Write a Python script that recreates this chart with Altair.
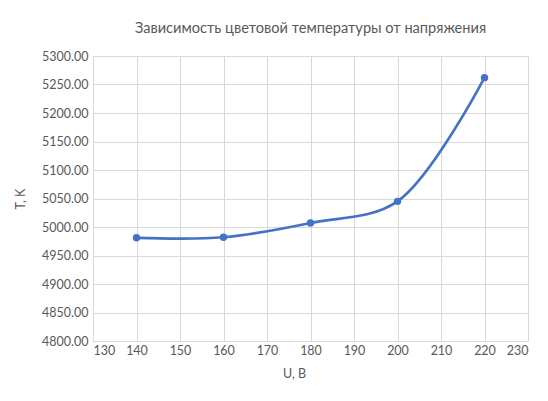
import altair as alt
import pandas as pd

voltage = [140, 160, 180, 200, 220]
temperature = [4981, 4982, 5007, 5045, 5262]

df = pd.DataFrame({"U": voltage, "T": temperature})

FONT = "Lato"
GRAY = "#595959"
BLUE = "#4472C4"

common = dict(labelFont=FONT, labelFontSize=12.5, labelColor=GRAY,
              titleFont=FONT, titleFontSize=12.5, titleColor=GRAY,
              titleFontWeight="normal", gridColor="#d9d9d9",
              domainColor="#d9d9d9", ticks=False)

x = alt.X("U:Q",
          scale=alt.Scale(domain=[130, 230], nice=False, zero=False),
          axis=alt.Axis(values=list(range(130, 231, 10)), title="U, B",
                        titleX=201, titleAlign="center", titlePadding=11,
                        labelPadding=3, **common))
y = alt.Y("T:Q",
          scale=alt.Scale(domain=[4800, 5300], nice=False, zero=False),
          axis=alt.Axis(values=list(range(4800, 5301, 50)), format=".2f",
                        title="T, K", titlePadding=14, labelPadding=5,
                        **common))

line = alt.Chart(df).mark_line(interpolate="catmull-rom", color=BLUE,
                               strokeWidth=2.6).encode(x=x, y=y)
pts = alt.Chart(df).mark_point(filled=True, color=BLUE, size=55,
                               opacity=1).encode(x=x, y=y)

chart = alt.layer(line, pts).properties(
    width=435, height=285,
    autosize=alt.AutoSizeParams(type="none"),
    padding={"left": 85, "top": 48, "right": 12, "bottom": 52},
    title=alt.TitleParams("Зависимость цветовой температуры от напряжения",
                          font=FONT, fontSize=14.6, fontWeight="normal",
                          color=GRAY, anchor="middle", offset=14),
).configure_view(stroke=None).configure(background="white")

chart.save("out.html", embed_options={"renderer": "svg", "actions": False})
